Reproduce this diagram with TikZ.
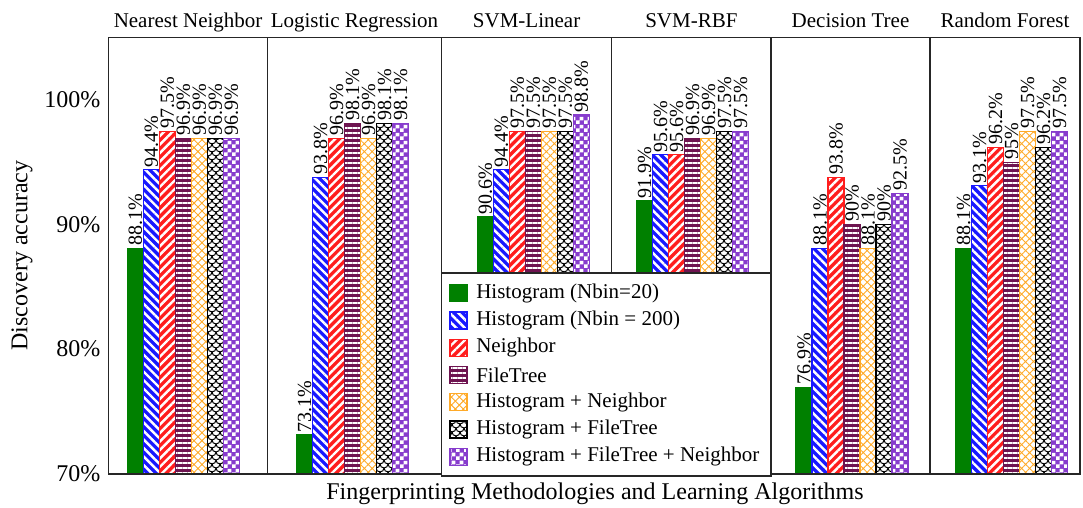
\documentclass[tikz,border=0pt]{standalone}
\usepackage{fontspec}
\setmainfont{Liberation Serif}
\usetikzlibrary{positioning, patterns.meta}

\definecolor{cgreen}{RGB}{0,128,0}
\definecolor{cblue}{RGB}{25,25,255}
\definecolor{cred}{RGB}{255,30,30}
\definecolor{cmaroon}{RGB}{110,20,80}
\definecolor{corange}{RGB}{255,170,40}
\definecolor{cviolet}{RGB}{135,60,205}

% fish scales and checker board
\pgfdeclarepattern{
  name=scales, type=uncolored,
  bottom left={\pgfpoint{-0.5pt}{-0.5pt}},
  top right={\pgfpoint{8.5pt}{8.5pt}},
  tile size={\pgfpoint{8pt}{8pt}},
  code={
    \pgfsetlinewidth{1pt}
    \pgfpathmoveto{\pgfpoint{0pt}{8pt}}
    \pgfpatharc{180}{360}{4pt}
    \pgfpathmoveto{\pgfpoint{0pt}{0pt}}
    \pgfpatharc{270}{360}{4pt}
    \pgfpatharc{180}{270}{4pt}
    \pgfusepath{stroke}
  }
}
\pgfdeclarepattern{
  name=checker, type=uncolored,
  bottom left={\pgfpointorigin},
  top right={\pgfpoint{8pt}{8pt}},
  tile size={\pgfpoint{8pt}{8pt}},
  code={
    \pgfpathrectangle{\pgfpointorigin}{\pgfpoint{4pt}{4pt}}
    \pgfpathrectangle{\pgfpoint{4pt}{4pt}}{\pgfpoint{4pt}{4pt}}
    \pgfusepath{fill}
  }
}

\tikzset{
  bar/.style={line width=1.2pt},
  histA/.style={bar, draw=cgreen, fill=cgreen},
  histB/.style={bar, draw=cblue, preaction={fill=cblue}, pattern={Lines[angle=-45,distance=6pt,line width=2.4pt]}, pattern color=white},
  neigh/.style={bar, draw=cred, preaction={fill=cred}, pattern={Lines[angle=45,distance=6pt,line width=2.4pt]}, pattern color=white},
  ftree/.style={bar, draw=cmaroon, preaction={fill=cmaroon}, pattern={Lines[angle=0,distance=5pt,line width=1.8pt]}, pattern color=white},
  hneigh/.style={bar, draw=corange, pattern={Hatch[angle=45,distance=5.6pt,line width=0.9pt]}, pattern color=corange},
  hftree/.style={bar, draw=black, pattern=scales, pattern color=black},
  hall/.style={bar, draw=cviolet, preaction={fill=cviolet}, pattern=checker, pattern color=white},
  frame/.style={line width=1.3pt, draw=black!85},
  barlab/.style={rotate=90, anchor=west, inner sep=0pt, font=\fontsize{20}{20}\selectfont},
  ttl/.style={anchor=base, inner sep=0pt, font=\fontsize{21}{21}\selectfont},
  axlab/.style={inner sep=0pt, font=\fontsize{24}{24}\selectfont},
  swatch/.style={minimum size=17pt, inner sep=0pt},
  legtxt/.style={inner sep=0pt, font=\fontsize{21}{21}\selectfont}
}

\begin{document}
\begin{tikzpicture}[x=1pt, y=1pt]
  \useasboundingbox (0,0) rectangle (1083,508);

  % bars, one row of values per method
  \foreach \s/\vals [count=\k from 0] in {histA/{88.1,73.1,90.6,91.9,76.9,88.1},
      histB/{94.4,93.8,94.4,95.6,88.1,93.1}, neigh/{97.5,96.9,97.5,95.6,93.8,96.2},
      ftree/{96.9,98.1,97.5,96.9,90,95}, hneigh/{96.9,96.9,97.5,96.9,88.1,97.5},
      hftree/{96.9,98.1,97.5,97.5,90,96.2}, hall/{96.9,98.1,98.8,97.5,92.5,97.5}} {
    \foreach \v [count=\g from 0] in \vals {
      \pgfmathsetmacro\xl{{127.3,296.7,477.3,636.7,796,955.7}[\g]+16*\k}
      \pgfmathsetmacro\yt{34.5+(\v-70)*12.45}
      \draw[\s] (\xl,34) rectangle ({\xl+16},\yt);
      \node[barlab] (lab\k\g) at ({\xl+8},{\yt+2.5}) {\v\%};
    }
  }

  % frame and panels
  \draw[frame] (108.7,34) rectangle (1080,470.7);
  \foreach \x in {267.5,441.5,611.7,771,930}
    \draw[frame] (\x,34) -- (\x,470.7);

  \node[ttl] (t1) at (188.1,480) {Nearest Neighbor};
  \node[ttl] (t2) at (354.5,480) {Logistic Regression};
  \node[ttl] (t3) at (526.6,480) {SVM-Linear};
  \node[ttl] (t4) at (691.4,480) {SVM-RBF};
  \node[ttl] (t5) at (850.5,480) {Decision Tree};
  \node[ttl] (t6) at (1005,480) {Random Forest};

  % axes text
  \foreach \t in {70,80,90,100}
    \node[axlab, anchor=east] (tk\t) at (100.5,{34.5+(\t-70)*12.45}) {\t\%};
  \node[axlab, rotate=90] (ylab) at (22,252.5) {Discovery accuracy};
  \node[axlab, anchor=base] (xlab) at (595,9) {Fingerprinting Methodologies and Learning Algorithms};

  % legend
  \draw[frame, fill=white] (441.5,32) rectangle (771,235);
  \foreach \s/\txt [count=\k from 0] in {histA/Histogram (Nbin=20), histB/Histogram (Nbin = 200),
      neigh/Neighbor, ftree/FileTree, hneigh/Histogram + Neighbor,
      hftree/Histogram + FileTree, hall/Histogram + FileTree + Neighbor} {
    \node[\s, swatch] (sw\k) at (458.5,{214.7-27.23*\k}) {};
    \node[legtxt, right=8.5pt of sw\k] (leg\k) {\txt};
  }
\end{tikzpicture}
\end{document}
